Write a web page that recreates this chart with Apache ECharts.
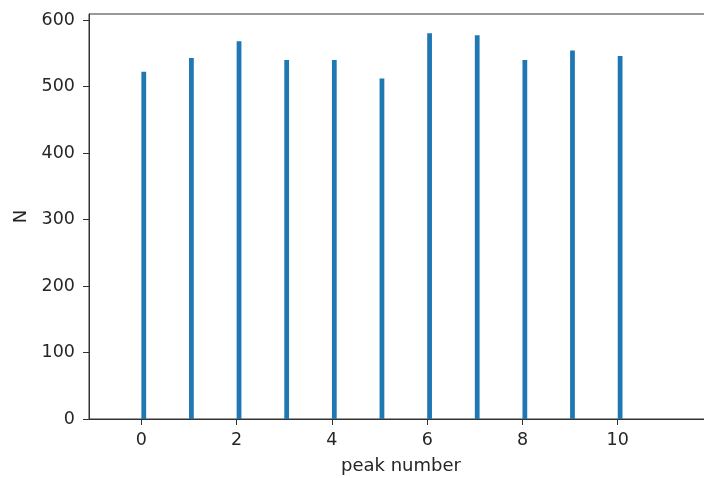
<!DOCTYPE html>
<html>
<head>
<meta charset="utf-8">
<script src="https://cdn.jsdelivr.net/npm/echarts@6/dist/echarts.min.js"></script>
<style>
  html, body { margin: 0; padding: 0; background: #ffffff; }
  #chart { width: 704px; height: 478px; }
</style>
</head>
<body>
<div id="chart"></div>
<script>
// Histogram of peak counts: one narrow bin per peak number
const peakNumbers = [0, 1, 2, 3, 4, 5, 6, 7, 8, 9, 10];
const counts = [522, 543, 568, 540, 540, 512, 580, 577, 540, 554, 546];
const binWidth = 0.1;
const xTicks = [0, 2, 4, 6, 8, 10];
const yTicks = [0, 100, 200, 300, 400, 500, 600];

const textColor = '#262626';
const lineColor = '#333333';
const font = 'DejaVu Sans';
const fontSize = 17.5;
const nameFontSize = 18;

const chart = echarts.init(document.getElementById('chart'), null, { renderer: 'canvas' });

const binData = peakNumbers.map((p, i) => [p, p + binWidth, counts[i]]);

chart.setOption({
  animation: false,
  backgroundColor: '#ffffff',
  grid: {
    left: 89, top: 14, right: -9, bottom: 59,
    outerBoundsMode: 'none',
    containLabel: false,
    show: true, borderColor: lineColor, borderWidth: 1, backgroundColor: 'transparent'
  },
  xAxis: {
    type: 'value',
    min: -1.1, max: 12,
    name: 'peak number',
    nameLocation: 'middle',
    nameGap: 38,
    nameTextStyle: { fontFamily: font, fontSize: nameFontSize, color: textColor },
    splitLine: { show: false },
    axisLine: { show: true, onZero: false, lineStyle: { color: lineColor, width: 1 } },
    axisTick: { show: true, length: 6, lineStyle: { color: lineColor }, customValues: xTicks },
    axisLabel: { fontFamily: font, fontSize: fontSize, color: textColor, margin: 12, customValues: xTicks }
  },
  yAxis: {
    type: 'value',
    min: 0, max: 609,
    name: 'N',
    nameLocation: 'middle',
    nameGap: 58,
    nameTextStyle: { fontFamily: font, fontSize: nameFontSize, color: textColor },
    splitLine: { show: false },
    axisLine: { show: true, onZero: false, lineStyle: { color: lineColor, width: 1 } },
    axisTick: { show: true, length: 6, lineStyle: { color: lineColor }, customValues: yTicks },
    axisLabel: { fontFamily: font, fontSize: fontSize, color: textColor, margin: 14, customValues: yTicks }
  },
  series: [{
    type: 'custom',
    data: binData,
    encode: { x: [0, 1], y: 2 },
    renderItem: function (params, api) {
      const lo = api.coord([api.value(0), 0]);
      const hi = api.coord([api.value(1), api.value(2)]);
      return {
        type: 'rect',
        shape: { x: lo[0], y: hi[1], width: hi[0] - lo[0], height: lo[1] - hi[1] },
        style: { fill: '#1f77b4' }
      };
    }
  }]
});
</script>
</body>
</html>
